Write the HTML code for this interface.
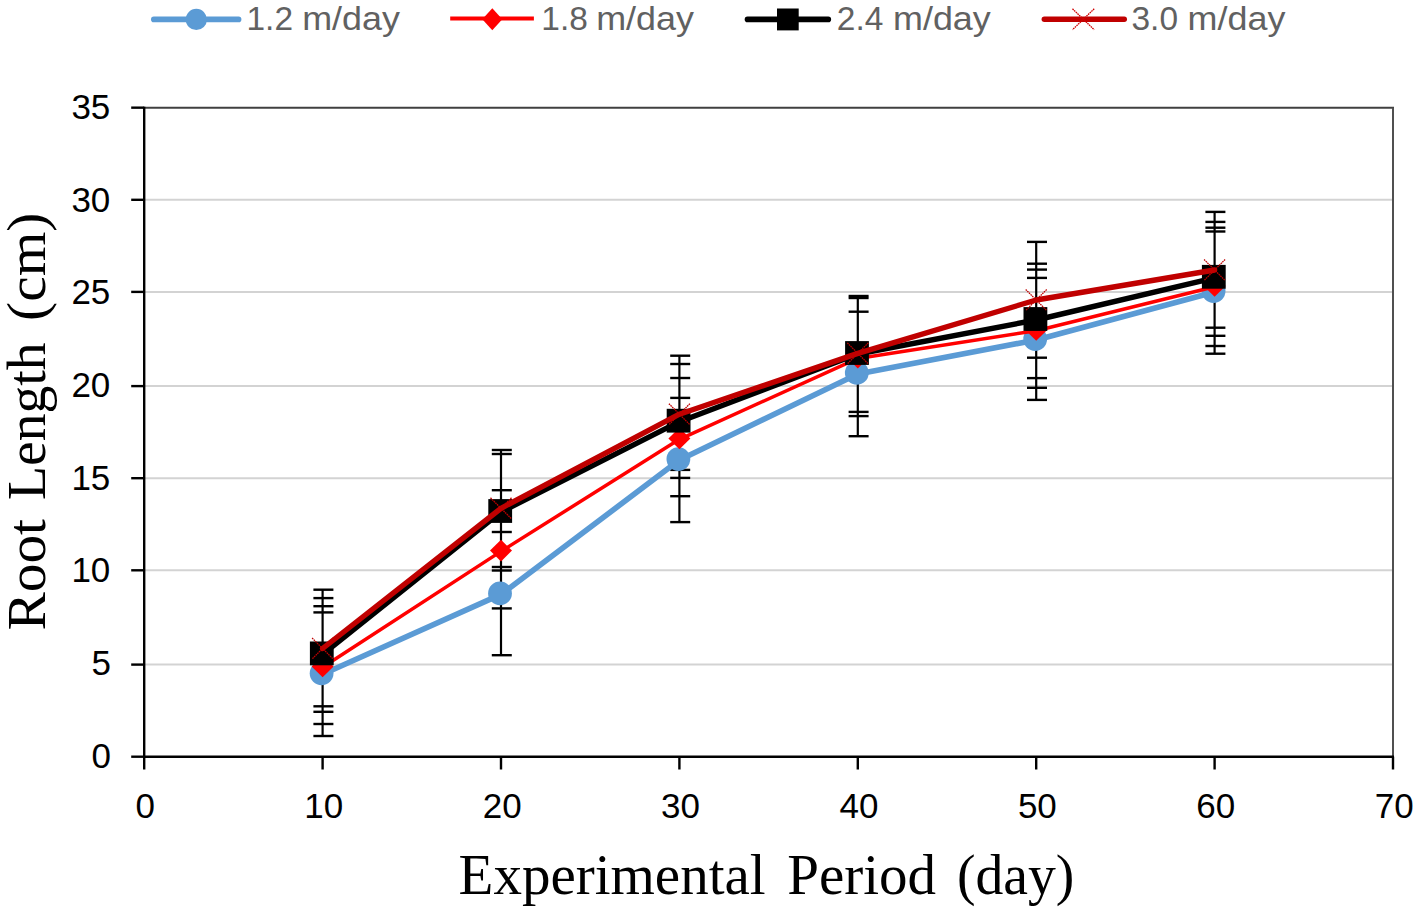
<!DOCTYPE html><html><head><meta charset="utf-8"><title>Root Length chart</title><style>html,body{margin:0;padding:0;background:#fff;}body{width:1416px;height:909px;overflow:hidden;}svg{display:block}</style></head><body>
<svg width="1416" height="909" viewBox="0 0 1416 909">
<rect width="1416" height="909" fill="#fff"/>
<line x1="144.2" y1="664.60" x2="1393.0" y2="664.60" stroke="#d3d3d3" stroke-width="2"/>
<line x1="144.2" y1="570.30" x2="1393.0" y2="570.30" stroke="#d3d3d3" stroke-width="2"/>
<line x1="144.2" y1="478.20" x2="1393.0" y2="478.20" stroke="#d3d3d3" stroke-width="2"/>
<line x1="144.2" y1="386.10" x2="1393.0" y2="386.10" stroke="#d3d3d3" stroke-width="2"/>
<line x1="144.2" y1="291.90" x2="1393.0" y2="291.90" stroke="#d3d3d3" stroke-width="2"/>
<line x1="144.2" y1="199.80" x2="1393.0" y2="199.80" stroke="#d3d3d3" stroke-width="2"/>
<line x1="144.2" y1="107.66" x2="1394.0" y2="107.66" stroke="#404040" stroke-width="2"/>
<line x1="1393.0" y1="107.66" x2="1393.0" y2="756.70" stroke="#505050" stroke-width="2"/>
<line x1="144.20" y1="106.66" x2="144.20" y2="757.70" stroke="#000" stroke-width="2.4"/>
<line x1="143.20" y1="756.70" x2="1394.00" y2="756.70" stroke="#000" stroke-width="2.4"/>
<line x1="131.2" y1="756.70" x2="144.20" y2="756.70" stroke="#000" stroke-width="2.4"/>
<line x1="131.2" y1="664.60" x2="144.20" y2="664.60" stroke="#000" stroke-width="2.4"/>
<line x1="131.2" y1="570.30" x2="144.20" y2="570.30" stroke="#000" stroke-width="2.4"/>
<line x1="131.2" y1="478.20" x2="144.20" y2="478.20" stroke="#000" stroke-width="2.4"/>
<line x1="131.2" y1="386.10" x2="144.20" y2="386.10" stroke="#000" stroke-width="2.4"/>
<line x1="131.2" y1="291.90" x2="144.20" y2="291.90" stroke="#000" stroke-width="2.4"/>
<line x1="131.2" y1="199.80" x2="144.20" y2="199.80" stroke="#000" stroke-width="2.4"/>
<line x1="131.2" y1="107.66" x2="144.20" y2="107.66" stroke="#000" stroke-width="2.4"/>
<line x1="144.20" y1="756.70" x2="144.20" y2="769.5" stroke="#000" stroke-width="2.4"/>
<line x1="322.60" y1="756.70" x2="322.60" y2="769.5" stroke="#000" stroke-width="2.4"/>
<line x1="501.00" y1="756.70" x2="501.00" y2="769.5" stroke="#000" stroke-width="2.4"/>
<line x1="679.40" y1="756.70" x2="679.40" y2="769.5" stroke="#000" stroke-width="2.4"/>
<line x1="857.80" y1="756.70" x2="857.80" y2="769.5" stroke="#000" stroke-width="2.4"/>
<line x1="1036.20" y1="756.70" x2="1036.20" y2="769.5" stroke="#000" stroke-width="2.4"/>
<line x1="1214.60" y1="756.70" x2="1214.60" y2="769.5" stroke="#000" stroke-width="2.4"/>
<line x1="1393.00" y1="756.70" x2="1393.00" y2="769.5" stroke="#000" stroke-width="2.4"/>
<text x="91.60" y="767.70" font-family="Liberation Sans, sans-serif" font-size="35" fill="#000">0</text>
<text x="91.60" y="675.00" font-family="Liberation Sans, sans-serif" font-size="35" fill="#000">5</text>
<text x="71.40" y="582.30" font-family="Liberation Sans, sans-serif" font-size="35" fill="#000">10</text>
<text x="71.40" y="489.60" font-family="Liberation Sans, sans-serif" font-size="35" fill="#000">15</text>
<text x="71.40" y="396.90" font-family="Liberation Sans, sans-serif" font-size="35" fill="#000">20</text>
<text x="71.40" y="304.20" font-family="Liberation Sans, sans-serif" font-size="35" fill="#000">25</text>
<text x="71.40" y="211.50" font-family="Liberation Sans, sans-serif" font-size="35" fill="#000">30</text>
<text x="71.40" y="118.80" font-family="Liberation Sans, sans-serif" font-size="35" fill="#000">35</text>
<text x="135.40" y="817.60" font-family="Liberation Sans, sans-serif" font-size="35" fill="#000">0</text>
<text x="304.30" y="817.60" font-family="Liberation Sans, sans-serif" font-size="35" fill="#000">10</text>
<text x="482.70" y="817.60" font-family="Liberation Sans, sans-serif" font-size="35" fill="#000">20</text>
<text x="661.10" y="817.60" font-family="Liberation Sans, sans-serif" font-size="35" fill="#000">30</text>
<text x="839.50" y="817.60" font-family="Liberation Sans, sans-serif" font-size="35" fill="#000">40</text>
<text x="1017.90" y="817.60" font-family="Liberation Sans, sans-serif" font-size="35" fill="#000">50</text>
<text x="1196.30" y="817.60" font-family="Liberation Sans, sans-serif" font-size="35" fill="#000">60</text>
<text x="1374.70" y="817.60" font-family="Liberation Sans, sans-serif" font-size="35" fill="#000">70</text>
<text x="458.60" y="893.60" font-family="Liberation Serif, serif" font-size="57" fill="#000">Experimental</text>
<text x="787.20" y="893.60" font-family="Liberation Serif, serif" font-size="57" fill="#000">Period</text>
<text x="957.00" y="893.60" font-family="Liberation Serif, serif" font-size="57" fill="#000" textLength="117.40" lengthAdjust="spacingAndGlyphs">(day)</text>
<text transform="translate(44.90,630.50) rotate(-90)" x="0" y="0" font-family="Liberation Serif, serif" font-size="55.3" fill="#000" textLength="111.50" lengthAdjust="spacingAndGlyphs">Root</text>
<text transform="translate(44.90,499.90) rotate(-90)" x="0" y="0" font-family="Liberation Serif, serif" font-size="55.3" fill="#000" textLength="157.50" lengthAdjust="spacingAndGlyphs">Length</text>
<text transform="translate(44.90,320.90) rotate(-90)" x="0" y="0" font-family="Liberation Serif, serif" font-size="55.3" fill="#000" textLength="108.30" lengthAdjust="spacingAndGlyphs">(cm)</text>
<line x1="322.60" y1="589.70" x2="322.60" y2="736.00" stroke="#000" stroke-width="2.2"/>
<line x1="313.40" y1="589.70" x2="333.40" y2="589.70" stroke="#000" stroke-width="2.4"/>
<line x1="313.40" y1="598.10" x2="333.40" y2="598.10" stroke="#000" stroke-width="2.4"/>
<line x1="313.40" y1="606.20" x2="333.40" y2="606.20" stroke="#000" stroke-width="2.4"/>
<line x1="313.40" y1="612.40" x2="333.40" y2="612.40" stroke="#000" stroke-width="2.4"/>
<line x1="313.40" y1="706.30" x2="333.40" y2="706.30" stroke="#000" stroke-width="2.4"/>
<line x1="313.40" y1="711.80" x2="333.40" y2="711.80" stroke="#000" stroke-width="2.4"/>
<line x1="313.40" y1="724.00" x2="333.40" y2="724.00" stroke="#000" stroke-width="2.4"/>
<line x1="313.40" y1="736.00" x2="333.40" y2="736.00" stroke="#000" stroke-width="2.4"/>
<line x1="501.00" y1="450.00" x2="501.00" y2="655.20" stroke="#000" stroke-width="2.2"/>
<line x1="491.80" y1="450.00" x2="511.80" y2="450.00" stroke="#000" stroke-width="2.4"/>
<line x1="491.80" y1="454.00" x2="511.80" y2="454.00" stroke="#000" stroke-width="2.4"/>
<line x1="491.80" y1="490.20" x2="511.80" y2="490.20" stroke="#000" stroke-width="2.4"/>
<line x1="491.80" y1="532.00" x2="511.80" y2="532.00" stroke="#000" stroke-width="2.4"/>
<line x1="491.80" y1="567.00" x2="511.80" y2="567.00" stroke="#000" stroke-width="2.4"/>
<line x1="491.80" y1="570.50" x2="511.80" y2="570.50" stroke="#000" stroke-width="2.4"/>
<line x1="491.80" y1="608.40" x2="511.80" y2="608.40" stroke="#000" stroke-width="2.4"/>
<line x1="491.80" y1="655.20" x2="511.80" y2="655.20" stroke="#000" stroke-width="2.4"/>
<line x1="679.40" y1="355.70" x2="679.40" y2="522.10" stroke="#000" stroke-width="2.2"/>
<line x1="670.20" y1="355.70" x2="690.20" y2="355.70" stroke="#000" stroke-width="2.4"/>
<line x1="670.20" y1="364.00" x2="690.20" y2="364.00" stroke="#000" stroke-width="2.4"/>
<line x1="670.20" y1="378.00" x2="690.20" y2="378.00" stroke="#000" stroke-width="2.4"/>
<line x1="670.20" y1="397.90" x2="690.20" y2="397.90" stroke="#000" stroke-width="2.4"/>
<line x1="670.20" y1="469.90" x2="690.20" y2="469.90" stroke="#000" stroke-width="2.4"/>
<line x1="670.20" y1="477.90" x2="690.20" y2="477.90" stroke="#000" stroke-width="2.4"/>
<line x1="670.20" y1="496.20" x2="690.20" y2="496.20" stroke="#000" stroke-width="2.4"/>
<line x1="670.20" y1="522.10" x2="690.20" y2="522.10" stroke="#000" stroke-width="2.4"/>
<line x1="857.80" y1="296.00" x2="857.80" y2="436.20" stroke="#000" stroke-width="2.2"/>
<line x1="848.60" y1="296.00" x2="868.60" y2="296.00" stroke="#000" stroke-width="2.4"/>
<line x1="848.60" y1="298.00" x2="868.60" y2="298.00" stroke="#000" stroke-width="2.4"/>
<line x1="848.60" y1="311.70" x2="868.60" y2="311.70" stroke="#000" stroke-width="2.4"/>
<line x1="848.60" y1="411.90" x2="868.60" y2="411.90" stroke="#000" stroke-width="2.4"/>
<line x1="848.60" y1="416.10" x2="868.60" y2="416.10" stroke="#000" stroke-width="2.4"/>
<line x1="848.60" y1="436.20" x2="868.60" y2="436.20" stroke="#000" stroke-width="2.4"/>
<line x1="1036.20" y1="241.90" x2="1036.20" y2="399.90" stroke="#000" stroke-width="2.2"/>
<line x1="1027.00" y1="241.90" x2="1047.00" y2="241.90" stroke="#000" stroke-width="2.4"/>
<line x1="1027.00" y1="263.70" x2="1047.00" y2="263.70" stroke="#000" stroke-width="2.4"/>
<line x1="1027.00" y1="269.60" x2="1047.00" y2="269.60" stroke="#000" stroke-width="2.4"/>
<line x1="1027.00" y1="277.90" x2="1047.00" y2="277.90" stroke="#000" stroke-width="2.4"/>
<line x1="1027.00" y1="357.70" x2="1047.00" y2="357.70" stroke="#000" stroke-width="2.4"/>
<line x1="1027.00" y1="378.10" x2="1047.00" y2="378.10" stroke="#000" stroke-width="2.4"/>
<line x1="1027.00" y1="387.80" x2="1047.00" y2="387.80" stroke="#000" stroke-width="2.4"/>
<line x1="1027.00" y1="399.90" x2="1047.00" y2="399.90" stroke="#000" stroke-width="2.4"/>
<line x1="1214.60" y1="211.90" x2="1214.60" y2="353.70" stroke="#000" stroke-width="2.2"/>
<line x1="1205.40" y1="211.90" x2="1225.40" y2="211.90" stroke="#000" stroke-width="2.4"/>
<line x1="1205.40" y1="221.90" x2="1225.40" y2="221.90" stroke="#000" stroke-width="2.4"/>
<line x1="1205.40" y1="227.70" x2="1225.40" y2="227.70" stroke="#000" stroke-width="2.4"/>
<line x1="1205.40" y1="231.50" x2="1225.40" y2="231.50" stroke="#000" stroke-width="2.4"/>
<line x1="1205.40" y1="327.70" x2="1225.40" y2="327.70" stroke="#000" stroke-width="2.4"/>
<line x1="1205.40" y1="335.80" x2="1225.40" y2="335.80" stroke="#000" stroke-width="2.4"/>
<line x1="1205.40" y1="346.00" x2="1225.40" y2="346.00" stroke="#000" stroke-width="2.4"/>
<line x1="1205.40" y1="353.70" x2="1225.40" y2="353.70" stroke="#000" stroke-width="2.4"/>
<polyline points="322.60,674.30 501.00,594.40 679.40,460.10 857.80,373.90 1036.20,340.00 1214.60,292.00" fill="none" stroke="#5b9bd5" stroke-width="5.6" stroke-linejoin="round" stroke-linecap="round"/>
<circle cx="321.60" cy="673.30" r="11.9" fill="#5b9bd5"/>
<circle cx="500.00" cy="593.40" r="11.9" fill="#5b9bd5"/>
<circle cx="678.40" cy="459.10" r="11.9" fill="#5b9bd5"/>
<circle cx="856.80" cy="372.90" r="11.9" fill="#5b9bd5"/>
<circle cx="1035.20" cy="339.00" r="11.9" fill="#5b9bd5"/>
<circle cx="1213.60" cy="291.00" r="11.9" fill="#5b9bd5"/>
<polyline points="322.60,667.30 501.00,551.40 679.40,439.30 857.80,358.40 1036.20,330.70 1214.60,286.70" fill="none" stroke="#ff0000" stroke-width="3.5" stroke-linejoin="round" stroke-linecap="round"/>
<polygon points="311.60,666.50 322.60,655.70 333.60,666.50 322.60,677.30" fill="#ff0000"/>
<polygon points="490.00,550.60 501.00,539.80 512.00,550.60 501.00,561.40" fill="#ff0000"/>
<polygon points="668.40,438.50 679.40,427.70 690.40,438.50 679.40,449.30" fill="#ff0000"/>
<polygon points="846.80,357.60 857.80,346.80 868.80,357.60 857.80,368.40" fill="#ff0000"/>
<polygon points="1025.20,329.90 1036.20,319.10 1047.20,329.90 1036.20,340.70" fill="#ff0000"/>
<polygon points="1203.60,285.90 1214.60,275.10 1225.60,285.90 1214.60,296.70" fill="#ff0000"/>
<polyline points="322.60,654.40 501.00,512.00 679.40,421.70 857.80,354.00 1036.20,320.00 1214.60,277.80" fill="none" stroke="#000" stroke-width="5.4" stroke-linejoin="round" stroke-linecap="round"/>
<rect x="309.90" y="641.50" width="23.8" height="23.8" fill="#000"/>
<rect x="488.30" y="499.10" width="23.8" height="23.8" fill="#000"/>
<rect x="666.70" y="408.80" width="23.8" height="23.8" fill="#000"/>
<rect x="845.10" y="341.10" width="23.8" height="23.8" fill="#000"/>
<rect x="1023.50" y="307.10" width="23.8" height="23.8" fill="#000"/>
<rect x="1201.90" y="264.90" width="23.8" height="23.8" fill="#000"/>
<polyline points="322.60,648.50 501.00,508.30 679.40,414.20 857.80,353.40 1036.20,300.00 1214.60,270.00" fill="none" stroke="#c00000" stroke-width="5.4" stroke-linejoin="round" stroke-linecap="round"/>
<path d="M312.10,638.00L333.10,659.00M333.10,638.00L312.10,659.00" stroke="#c00000" stroke-width="1.3" stroke-dasharray="1.6 0.7" fill="none"/>
<path d="M490.50,497.80L511.50,518.80M511.50,497.80L490.50,518.80" stroke="#c00000" stroke-width="1.3" stroke-dasharray="1.6 0.7" fill="none"/>
<path d="M668.90,403.70L689.90,424.70M689.90,403.70L668.90,424.70" stroke="#c00000" stroke-width="1.3" stroke-dasharray="1.6 0.7" fill="none"/>
<path d="M847.30,342.90L868.30,363.90M868.30,342.90L847.30,363.90" stroke="#c00000" stroke-width="1.3" stroke-dasharray="1.6 0.7" fill="none"/>
<path d="M1025.70,289.50L1046.70,310.50M1046.70,289.50L1025.70,310.50" stroke="#c00000" stroke-width="1.3" stroke-dasharray="1.6 0.7" fill="none"/>
<path d="M1204.10,259.50L1225.10,280.50M1225.10,259.50L1204.10,280.50" stroke="#c00000" stroke-width="1.3" stroke-dasharray="1.6 0.7" fill="none"/>
<line x1="153.8" y1="19.4" x2="238.6" y2="19.4" stroke="#5b9bd5" stroke-width="5.6" stroke-linecap="round"/>
<circle cx="196.3" cy="19.4" r="10.6" fill="#5b9bd5"/>
<line x1="450.2" y1="18.5" x2="533.9" y2="18.5" stroke="#ff0000" stroke-width="3.9"/>
<polygon points="482.3,19.25 492.3,8.15 502.3,19.25 492.3,30.35" fill="#ff0000"/>
<line x1="747.5" y1="19.4" x2="828.3" y2="19.4" stroke="#000" stroke-width="5.6" stroke-linecap="round"/>
<rect x="777" y="8.5" width="21.7" height="21.9" fill="#000"/>
<line x1="1044.3" y1="19.2" x2="1124.3" y2="19.2" stroke="#c00000" stroke-width="5.4" stroke-linecap="round"/>
<path d="M1072.5,8.8L1094.2,29.7M1094.2,8.8L1072.5,29.7" stroke="#d00000" stroke-width="1.3" stroke-dasharray="1.6 0.7" fill="none"/>
<text x="246.50" y="30.20" font-family="Liberation Sans, sans-serif" font-size="33" fill="#616161" textLength="46.50" lengthAdjust="spacingAndGlyphs">1.2</text>
<text x="302.20" y="30.20" font-family="Liberation Sans, sans-serif" font-size="33" fill="#616161" textLength="97.80" lengthAdjust="spacingAndGlyphs">m/day</text>
<text x="541.30" y="30.20" font-family="Liberation Sans, sans-serif" font-size="33" fill="#616161" textLength="46.50" lengthAdjust="spacingAndGlyphs">1.8</text>
<text x="596.20" y="30.20" font-family="Liberation Sans, sans-serif" font-size="33" fill="#616161" textLength="97.80" lengthAdjust="spacingAndGlyphs">m/day</text>
<text x="836.80" y="30.20" font-family="Liberation Sans, sans-serif" font-size="33" fill="#616161" textLength="46.50" lengthAdjust="spacingAndGlyphs">2.4</text>
<text x="893.00" y="30.20" font-family="Liberation Sans, sans-serif" font-size="33" fill="#616161" textLength="97.80" lengthAdjust="spacingAndGlyphs">m/day</text>
<text x="1131.50" y="30.20" font-family="Liberation Sans, sans-serif" font-size="33" fill="#616161" textLength="46.50" lengthAdjust="spacingAndGlyphs">3.0</text>
<text x="1187.60" y="30.20" font-family="Liberation Sans, sans-serif" font-size="33" fill="#616161" textLength="97.80" lengthAdjust="spacingAndGlyphs">m/day</text>
</svg></body></html>
